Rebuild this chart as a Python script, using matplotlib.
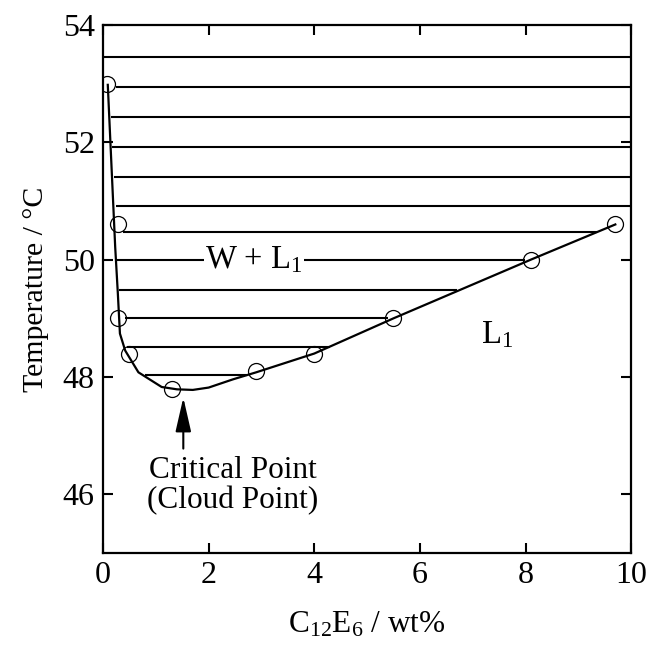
import numpy as np
import matplotlib
matplotlib.use("Agg")
import matplotlib.pyplot as plt

plt.rcParams['font.family'] = ['Liberation Serif', 'DejaVu Serif']
plt.rcParams['mathtext.fontset'] = 'custom'
plt.rcParams['mathtext.rm'] = 'Liberation Serif'
plt.rcParams['mathtext.it'] = 'Liberation Serif:italic'

# measured cloud points (wt% surfactant, temperature)
x_pts = [0.08, 0.29, 0.29, 0.5, 1.3, 2.9, 4.0, 5.5, 8.1, 9.7]
T_pts = [53.0, 50.6, 49.0, 48.4, 47.8, 48.1, 48.4, 49.0, 50.0, 50.6]

# drawn coexistence boundary
bound_x = [0.09, 0.23, 0.28, 0.32, 0.42, 0.67, 1.11, 1.4, 1.7, 2.0, 2.46, 2.9, 4.0, 5.5, 8.1, 9.7]
bound_T = [52.98, 50.22, 49.43, 48.74, 48.45, 48.08, 47.83, 47.79, 47.78, 47.82, 47.96, 48.08, 48.40, 49.0, 50.0, 50.6]

# hatching of the two-phase region
tie_T = [53.45, 52.94, 52.43, 51.92, 51.41, 50.92, 50.48, 49.99, 49.49, 49.01, 48.52, 48.04]
tie_left = [0.0, 0.25, 0.16, 0.17, 0.21, 0.24, 0.38, 0.27, 0.31, 0.42, 0.45, 0.8]
tie_right = [10, 10, 10, 10, 10, 10, 9.35, 7.99, 6.7, 5.4, 4.3, 2.72]

crit_x, crit_T = 1.52, 47.65

fig = plt.figure(figsize=(6.48, 6.54), dpi=100)
ax = fig.add_axes([0.159, 0.1544, 0.815, 0.8074])

ax.hlines(tie_T, tie_left, tie_right, color='black', lw=1.5)
ax.plot(bound_x, bound_T, color='black', lw=1.6)
ax.plot(x_pts, T_pts, 'o', ms=11.5, mfc='none', mec='black', mew=0.9)

ax.text(2.86, 49.99, r'W + L$_1$', fontsize=23.5, ha='center', va='center',
        bbox=dict(facecolor='white', edgecolor='none', pad=1))
ax.text(7.46, 48.72, r'L$_1$', fontsize=23.5, ha='center', va='center')

# arrow to the critical point
ax.annotate('', xy=(crit_x, crit_T), xytext=(crit_x, 46.78),
            arrowprops=dict(arrowstyle='-|>,head_length=1.4,head_width=0.32',
                            mutation_scale=15, color='black', lw=1.5,
                            shrinkA=0, shrinkB=0))
ax.text(2.46, 46.66, 'Critical Point\n(Cloud Point)', fontsize=22.5,
        ha='center', va='top', linespacing=1.08)

ax.set_xlim(0, 10)
ax.set_ylim(45, 54)
ax.set_xticks([0, 2, 4, 6, 8, 10])
ax.set_yticks([46, 48, 50, 52, 54])
ax.tick_params(direction='in', top=True, right=True, length=7.5, width=1.5,
               labelsize=23, pad=6)
for s in ax.spines.values():
    s.set_linewidth(1.6)

ax.set_xlabel(r'C$_{12}$E$_6$ / wt%', fontsize=22.5, labelpad=14)
ax.set_ylabel('Temperature / °C', fontsize=21.5, labelpad=10)

fig.savefig('out.png', dpi=100)
